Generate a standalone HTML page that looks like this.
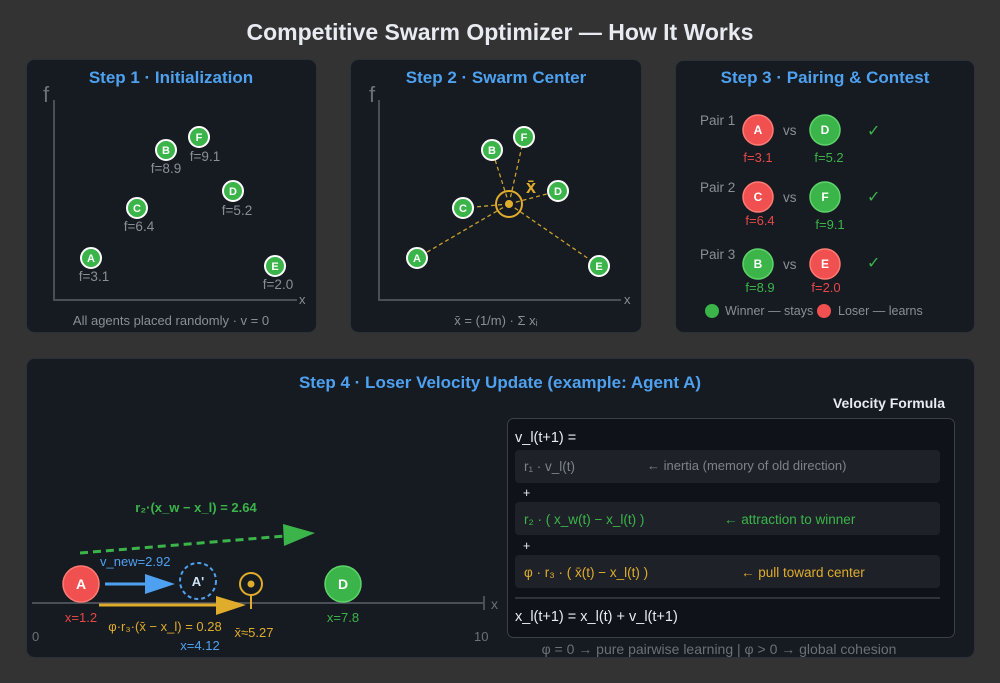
<!DOCTYPE html>
<html><head><meta charset="utf-8"><style>
html,body{margin:0;padding:0;background:#333333;}
svg{display:block;font-family:"Liberation Sans","DejaVu Sans",sans-serif;}
</style></head><body>
<svg width="1000" height="683" viewBox="0 0 1000 683" xmlns="http://www.w3.org/2000/svg">
<rect width="1000" height="683" fill="#333333"/>
<text x="500" y="40" text-anchor="middle" font-size="23" font-weight="bold" fill="#e8ecf2">Competitive Swarm Optimizer — How It Works</text>

<rect x="26.5" y="59.5" width="290" height="273" rx="8" fill="#161a21" stroke="#2b313a"/>
<rect x="350.5" y="59.5" width="291" height="273" rx="8" fill="#161a21" stroke="#2b313a"/>
<rect x="675.5" y="60.5" width="299" height="272" rx="8" fill="#161a21" stroke="#2b313a"/>
<rect x="26.5" y="358.5" width="948" height="299" rx="8" fill="#161a21" stroke="#2b313a"/>

<!-- Panel 1 -->
<text x="171" y="83" text-anchor="middle" font-size="17" font-weight="bold" fill="#4ea1f0">Step 1 · Initialization</text>
<path d="M54,100 V300 H297" fill="none" stroke="#4a4f57" stroke-width="2"/>
<text x="43" y="102" font-size="22" fill="#6b7079">f</text>
<text x="299" y="304" font-size="13" fill="#8a8f97">x</text>
<g font-size="13.5" fill="#8a8f97" text-anchor="middle">
<g stroke="#fff" stroke-width="2" fill="#3bb54a">
<circle cx="91" cy="258" r="10"/><circle cx="137" cy="208" r="10"/><circle cx="166" cy="150" r="10"/><circle cx="199" cy="137" r="10"/><circle cx="233" cy="191" r="10"/><circle cx="275" cy="266" r="10"/>
</g>
<g fill="#fff" font-weight="bold" font-size="11">
<text x="91" y="262">A</text><text x="137" y="212">C</text><text x="166" y="154">B</text><text x="199" y="141">F</text><text x="233" y="195">D</text><text x="275" y="270">E</text>
</g>
<text x="94" y="281">f=3.1</text><text x="139" y="231">f=6.4</text><text x="166" y="173">f=8.9</text><text x="205" y="161">f=9.1</text><text x="237" y="215">f=5.2</text><text x="278" y="289">f=2.0</text>
<text x="171" y="325" font-size="13">All agents placed randomly · v = 0</text>
</g>

<!-- Panel 2 -->
<text x="496" y="83" text-anchor="middle" font-size="17" font-weight="bold" fill="#4ea1f0">Step 2 · Swarm Center</text>
<path d="M379,100 V300 H621" fill="none" stroke="#4a4f57" stroke-width="2"/>
<text x="369" y="102" font-size="22" fill="#6b7079">f</text>
<text x="624" y="304" font-size="13" fill="#8a8f97">x</text>
<g stroke="#c9a02e" stroke-width="1.3" stroke-dasharray="4,3">
<line x1="509" y1="204" x2="417" y2="258"/><line x1="509" y1="204" x2="463" y2="208"/><line x1="509" y1="204" x2="492" y2="150"/><line x1="509" y1="204" x2="524" y2="137"/><line x1="509" y1="204" x2="558" y2="191"/><line x1="509" y1="204" x2="599" y2="266"/>
</g>
<g stroke="#fff" stroke-width="2" fill="#3bb54a">
<circle cx="417" cy="258" r="10"/><circle cx="463" cy="208" r="10"/><circle cx="492" cy="150" r="10"/><circle cx="524" cy="137" r="10"/><circle cx="558" cy="191" r="10"/><circle cx="599" cy="266" r="10"/>
</g>
<g fill="#fff" font-weight="bold" font-size="11" text-anchor="middle">
<text x="417" y="262">A</text><text x="463" y="212">C</text><text x="492" y="154">B</text><text x="524" y="141">F</text><text x="558" y="195">D</text><text x="599" y="270">E</text>
</g>
<circle cx="509" cy="204" r="13" fill="none" stroke="#e0ac2c" stroke-width="2"/>
<circle cx="509" cy="204" r="4" fill="#e0ac2c"/>
<text x="531" y="193" font-size="18" font-weight="bold" fill="#e0ac2c" text-anchor="middle">x̄</text>
<text x="496" y="325" text-anchor="middle" font-size="13" fill="#8a8f97">x̄ = (1/m) · Σ xᵢ</text>

<!-- Panel 3 -->
<text x="825" y="83" text-anchor="middle" font-size="17" font-weight="bold" fill="#4ea1f0">Step 3 · Pairing &amp; Contest</text>
<g font-size="13.5" fill="#8a8f97">
<text x="700" y="125">Pair 1</text><text x="700" y="192">Pair 2</text><text x="700" y="259">Pair 3</text>
<text x="783" y="135">vs</text><text x="783" y="202">vs</text><text x="783" y="269">vs</text>
</g>
<g stroke-width="1.5">
<circle cx="758" cy="130" r="15" fill="#f05050" stroke="#ff7b73"/><circle cx="825" cy="130" r="15" fill="#3bb54a" stroke="#5fd46b"/>
<circle cx="758" cy="197" r="15" fill="#f05050" stroke="#ff7b73"/><circle cx="825" cy="197" r="15" fill="#3bb54a" stroke="#5fd46b"/>
<circle cx="758" cy="264" r="15" fill="#3bb54a" stroke="#5fd46b"/><circle cx="825" cy="264" r="15" fill="#f05050" stroke="#ff7b73"/>
</g>
<g fill="#fff" font-weight="bold" font-size="12" text-anchor="middle">
<text x="758" y="134">A</text><text x="825" y="134">D</text><text x="758" y="201">C</text><text x="825" y="201">F</text><text x="758" y="268">B</text><text x="825" y="268">E</text>
</g>
<g font-size="13" text-anchor="middle">
<text x="758" y="162" fill="#e54848">f=3.1</text><text x="829" y="162" fill="#3bb54a">f=5.2</text>
<text x="760" y="225" fill="#e54848">f=6.4</text><text x="830" y="229" fill="#3bb54a">f=9.1</text>
<text x="760" y="292" fill="#3bb54a">f=8.9</text><text x="826" y="292" fill="#e54848">f=2.0</text>
</g>
<g fill="#3bb54a" font-size="16"><text x="867" y="136">✓</text><text x="867" y="202">✓</text><text x="867" y="268">✓</text></g>
<circle cx="712" cy="311" r="7" fill="#3bb54a"/><text x="725" y="315" font-size="12.5" fill="#8a8f97">Winner — stays</text>
<circle cx="824" cy="311" r="7" fill="#f05050"/><text x="838" y="315" font-size="12.5" fill="#8a8f97">Loser — learns</text>

<!-- Bottom -->
<text x="500" y="388" text-anchor="middle" font-size="17" font-weight="bold" fill="#4ea1f0">Step 4 · Loser Velocity Update (example: Agent A)</text>
<line x1="32" y1="603" x2="484" y2="603" stroke="#4a4f57" stroke-width="2"/>
<line x1="484" y1="596" x2="484" y2="610" stroke="#4a4f57" stroke-width="2"/>
<text x="491" y="609" font-size="14" fill="#6b7079">x</text>
<text x="32" y="641" font-size="13" fill="#6b7079">0</text>
<text x="474" y="641" font-size="13" fill="#6b7079">10</text>
<text x="196" y="512" text-anchor="middle" font-size="13" font-weight="bold" fill="#3bb54a">r₂·(x_w − x_l) = 2.64</text>
<line x1="80" y1="553" x2="285" y2="536" stroke="#3bb54a" stroke-width="3" stroke-dasharray="8,5"/>
<path d="M283,524 L315,533 L284,546 Z" fill="#3bb54a"/>
<text x="100" y="566" font-size="13" fill="#4ea1f0">v_new=2.92</text>
<line x1="105" y1="584" x2="148" y2="584" stroke="#4ea1f0" stroke-width="3"/>
<path d="M145,574 L175,584 L145,594 Z" fill="#4ea1f0"/>
<line x1="99" y1="605" x2="220" y2="605" stroke="#e0ac2c" stroke-width="3"/>
<path d="M216,596 L246,605 L216,615 Z" fill="#e0ac2c"/>
<circle cx="81" cy="584" r="18" fill="#f05050" stroke="#ff7b73" stroke-width="1.5"/>
<text x="81" y="589" text-anchor="middle" font-size="14" font-weight="bold" fill="#fff">A</text>
<circle cx="198" cy="581" r="18" fill="none" stroke="#4ea1f0" stroke-width="2" stroke-dasharray="4,3"/>
<text x="198" y="586" text-anchor="middle" font-size="13" font-weight="bold" fill="#cfe3f7">A'</text>
<circle cx="251" cy="584" r="11" fill="none" stroke="#e0ac2c" stroke-width="2"/>
<circle cx="251" cy="584" r="3.5" fill="#e0ac2c"/>
<line x1="251" y1="595" x2="251" y2="609" stroke="#e0ac2c" stroke-width="2"/>
<circle cx="343" cy="584" r="18" fill="#3bb54a" stroke="#5fd46b" stroke-width="1.5"/>
<text x="343" y="589" text-anchor="middle" font-size="14" font-weight="bold" fill="#fff">D</text>
<g font-size="13" text-anchor="middle">
<text x="81" y="622" fill="#e54848">x=1.2</text>
<text x="165" y="631" fill="#e0ac2c">φ·r₃·(x̄ − x_l) = 0.28</text>
<text x="200" y="650" fill="#4ea1f0">x=4.12</text>
<text x="254" y="637" fill="#e0ac2c">x̄≈5.27</text>
<text x="343" y="622" fill="#3bb54a">x=7.8</text>
</g>

<!-- Formula -->
<text x="945" y="408" text-anchor="end" font-size="14" font-weight="bold" fill="#e8ecf2">Velocity Formula</text>
<rect x="507.5" y="418.5" width="447" height="219" rx="6" fill="#0f1218" stroke="#3a4049"/>
<text x="515" y="442" font-size="14.5" fill="#e8ecf2">v_l(t+1) =</text>
<rect x="515" y="450" width="425" height="33" rx="4" fill="#1e2228"/>
<text x="524" y="471" font-size="13.5" fill="#7d828a">r₁ · v_l(t)</text>
<text x="647" y="470" font-size="13" fill="#7d828a">← inertia (memory of old direction)</text>
<text x="523" y="497" font-size="12.5" fill="#e8ecf2">+</text>
<rect x="515" y="502" width="425" height="33" rx="4" fill="#1e2228"/>
<text x="524" y="524" font-size="13.5" fill="#3bb54a">r₂ · ( x_w(t) − x_l(t) )</text>
<text x="724" y="524" font-size="13.5" fill="#3bb54a">← attraction to winner</text>
<text x="523" y="550" font-size="12.5" fill="#e8ecf2">+</text>
<rect x="515" y="555" width="425" height="33" rx="4" fill="#1e2228"/>
<text x="524" y="577" font-size="13.5" fill="#e0ac2c">φ · r₃ · ( x̄(t) − x_l(t) )</text>
<text x="741" y="577" font-size="13.5" fill="#e0ac2c">← pull toward center</text>
<line x1="515" y1="598" x2="940" y2="598" stroke="#3a4049" stroke-width="1.5"/>
<text x="515" y="621" font-size="14.5" fill="#e8ecf2">x_l(t+1) = x_l(t) + v_l(t+1)</text>
<text x="719" y="654" text-anchor="middle" font-size="14" fill="#6b7079">φ = 0 → pure pairwise learning | φ &gt; 0 → global cohesion</text>
</svg>
</body></html>
